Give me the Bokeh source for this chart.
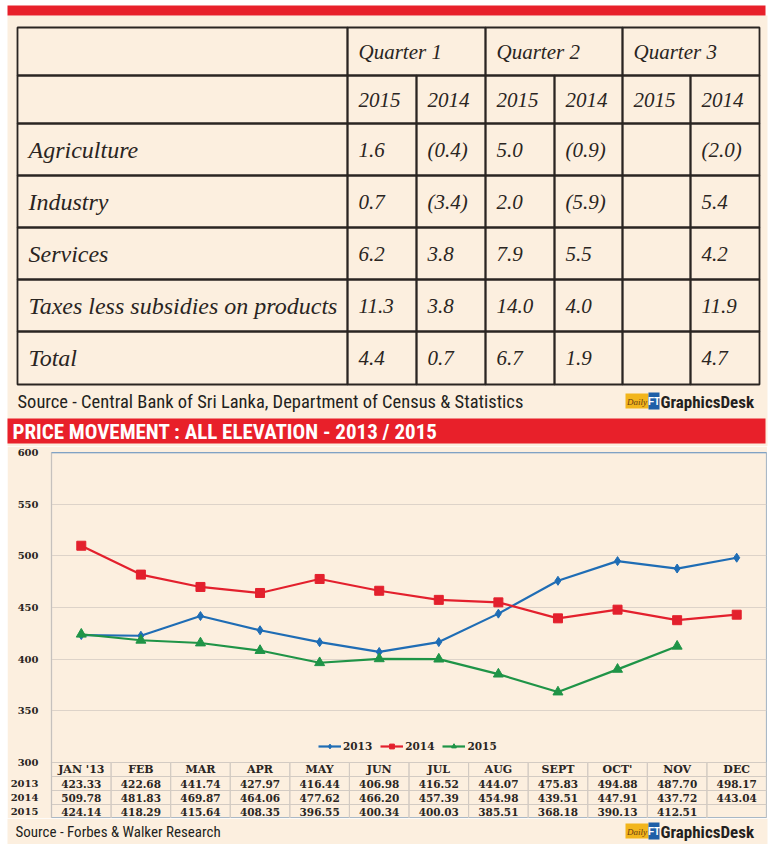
from bokeh.plotting import figure
from bokeh.layouts import column, row
from bokeh.models import (Range1d, FactorRange, FixedTicker, Legend, LegendItem,
                          ColumnDataSource, Span, Spacer)
from bokeh.core.properties import value
from bokeh.embed import file_html
from bokeh.resources import INLINE

# ---------------- data: GDP growth table ----------------
sectors = ["Agriculture", "Industry", "Services",
           "Taxes less subsidies on products", "Total"]
quarters = ["Quarter 1", "Quarter 2", "Quarter 3"]
table_years = ["2015", "2014"]
q1_2015 = [1.6, 0.7, 6.2, 11.3, 4.4]
q1_2014 = [-0.4, -3.4, 3.8, 3.8, 0.7]
q2_2015 = [5.0, 2.0, 7.9, 14.0, 6.7]
q2_2014 = [-0.9, -5.9, 5.5, 4.0, 1.9]
q3_2015 = [None, None, None, None, None]
q3_2014 = [-2.0, 5.4, 4.2, 11.9, 4.7]

# ---------------- data: tea price movement ----------------
months = ["JAN '13", "FEB", "MAR", "APR", "MAY", "JUN", "JUL", "AUG",
          "SEPT", "OCT'", "NOV", "DEC"]
series_years = ["2013", "2014", "2015"]
price_2013 = [423.33, 422.68, 441.74, 427.97, 416.44, 406.98, 416.52, 444.07,
              475.83, 494.88, 487.70, 498.17]
price_2014 = [509.78, 481.83, 469.87, 464.06, 477.62, 466.20, 457.39, 454.98,
              439.51, 447.91, 437.72, 443.04]
price_2015 = [424.14, 418.29, 415.64, 408.35, 396.55, 400.34, 400.03, 385.51,
              368.18, 390.13, 412.51]
y_ticks = [300, 350, 400, 450, 500, 550, 600]

# ---------------- styles ----------------
CREAM = "#fcefdf"
RED = "#e8202a"
INK = "#2a2522"
SERIF = value("Liberation Serif")
F_COND = value("Roboto Condensed")
CHART_FONT = "DejaVu Serif"
COLORS = ["#1f6db5", "#e3202d", "#1f9447"]
MARKERS = ["diamond", "square", "triangle"]
MSIZE = [9, 9, 10]

PAGE_W = 770
HA, HB, HC = 446, 372, 26


def fmt(v):
    if v is None:
        return ""
    return f"({abs(v):.1f})" if v < 0 else f"{v:.1f}"


def mid(a, b):
    return (a + b) / 2


def logo(p, yc):
    p.quad(left=[625], right=[648], top=[yc - 8], bottom=[yc + 7], color="#f2b51c", line_width=0)
    p.quad(left=[648], right=[659], top=[yc - 9], bottom=[yc + 8], color="#1e5fa8", line_width=0)
    p.text(x=[636.5], y=[yc], text=["Daily"], text_font=SERIF, text_font_style="italic",
           text_font_size="9px", text_color="#6b3d12", text_baseline="middle", text_align="center")
    p.text(x=[653.5], y=[yc], text=["FT"], text_font=value("Liberation Sans"), text_font_style="bold",
           text_font_size="10px", text_color="white", text_baseline="middle", text_align="center")
    p.text(x=[660], y=[yc], text=["GraphicsDesk"], text_font=F_COND, text_font_style="bold",
           text_font_size="17px", text_color="#231f20", text_baseline="middle")


# ================= Figure A: GDP table =================
pA = figure(width=PAGE_W, height=HA, x_range=Range1d(0, PAGE_W), y_range=Range1d(HA, 0),
            output_backend="svg", toolbar_location=None, min_border=0,
            x_axis_location=None, y_axis_location=None,
            background_fill_color="white", border_fill_color="white")
pA.grid.visible = False
pA.outline_line_color = None
pA.frame_align = False

pA.quad(left=[7], right=[767], top=[15], bottom=[HA], color=CREAM, line_width=0)
pA.quad(left=[7], right=[765], top=[5], bottom=[15], color=RED, line_width=0)

col_edges = [17, 347, 416, 485, 554, 622, 690, 759]
row_edges = [27, 75, 123, 175, 227, 279, 331, 384]

L, R, T, B = [], [], [], []
hdr_cols = [(col_edges[0], col_edges[1])] + [(col_edges[1 + 2 * q], col_edges[3 + 2 * q]) for q in range(3)]
for l, r in hdr_cols:
    L.append(l); R.append(r); T.append(row_edges[0]); B.append(row_edges[1])
for ri in range(1, len(row_edges) - 1):
    for ci in range(len(col_edges) - 1):
        L.append(col_edges[ci]); R.append(col_edges[ci + 1])
        T.append(row_edges[ri]); B.append(row_edges[ri + 1])
pA.quad(left=L, right=R, top=T, bottom=B, fill_alpha=0, line_color=INK, line_width=1.8)

pA.text(x=[col_edges[1 + 2 * q] + 11 for q in range(3)], y=[mid(row_edges[0], row_edges[1])] * 3,
        text=quarters, text_font=SERIF, text_font_style="italic", text_font_size="21px",
        text_color=INK, text_baseline="middle")
pA.text(x=[col_edges[1 + k] + 11 for k in range(6)], y=[mid(row_edges[1], row_edges[2])] * 6,
        text=table_years * 3, text_font=SERIF, text_font_style="italic", text_font_size="21px",
        text_color=INK, text_baseline="middle")
pA.text(x=[28] * len(sectors), y=[mid(row_edges[2 + i], row_edges[3 + i]) for i in range(len(sectors))],
        text=sectors, text_font=SERIF, text_font_style="italic", text_font_size="24px",
        text_color=INK, text_baseline="middle")
cols = [q1_2015, q1_2014, q2_2015, q2_2014, q3_2015, q3_2014]
vx, vy, vt = [], [], []
for ci, col in enumerate(cols):
    for ri, v in enumerate(col):
        vx.append(col_edges[1 + ci] + 11)
        vy.append(mid(row_edges[2 + ri], row_edges[3 + ri]))
        vt.append(fmt(v))
pA.text(x=vx, y=vy, text=vt, text_font=SERIF, text_font_style="italic", text_font_size="21px",
        text_color=INK, text_baseline="middle")

pA.text(x=[17], y=[401], text=["Source - Central Bank of Sri Lanka, Department of Census & Statistics"],
        text_font=F_COND, text_font_size="18.5px", text_color="#231f20", text_baseline="middle")
logo(pA, 401)

pA.quad(left=[7], right=[765], top=[418], bottom=[443], color=RED, line_width=0)
pA.text(x=[12], y=[431], text=["PRICE MOVEMENT : ALL ELEVATION - 2013 / 2015"],
        text_font=F_COND, text_font_style="bold", text_font_size="21px",
        text_color="white", text_baseline="middle")

# ================= Figure B: price chart + data table =================
WB = 760
top_pad = 6
frame_h = HB - top_pad
row_h = 14
table_rows = ["hdr"] + series_years          # top to bottom
table_h = row_h * len(table_rows)
price_lo = y_ticks[0] - (y_ticks[-1] - y_ticks[0]) * table_h / (frame_h - table_h)
ppp = (y_ticks[-1] - price_lo) / frame_h

pB = figure(width=WB, height=HB, x_range=FactorRange(*months),
            y_range=Range1d(price_lo, y_ticks[-1]),
            output_backend="svg", toolbar_location=None,
            min_border_left=40, min_border_right=1, min_border_top=top_pad,
            min_border_bottom=0, x_axis_location=None,
            background_fill_color=CREAM, border_fill_color=CREAM)
pB.frame_align = False
pB.extra_y_ranges = {"tbl": Range1d(0, frame_h / row_h)}

n_rows = len(table_rows)
row_y = {name: n_rows - 0.5 - i for i, name in enumerate(table_rows)}
row_tick = {yr: round(price_lo + row_y[yr] * row_h * ppp, 3) for yr in series_years}

pB.yaxis.ticker = FixedTicker(ticks=y_ticks + list(row_tick.values()))
overrides = {t: str(t) for t in y_ticks}
overrides.update({v: yr for yr, v in row_tick.items()})
pB.yaxis.major_label_overrides = overrides
pB.yaxis.major_label_text_font = CHART_FONT
pB.yaxis.major_label_text_font_style = "bold"
pB.yaxis.major_label_text_font_size = "10px"
pB.yaxis.major_label_text_color = INK
pB.yaxis.axis_line_color = "#c6c1bd"
pB.yaxis.major_tick_line_color = None
pB.yaxis.minor_tick_line_color = None
pB.yaxis.major_label_standoff = 7
pB.xgrid.visible = False
pB.ygrid.ticker = FixedTicker(ticks=y_ticks[1:-1])
pB.ygrid.grid_line_color = "#ddd3c9"
pB.ygrid.grid_line_width = 1.2
pB.outline_line_color = "#a9b8c6"
pB.outline_line_width = 1.2
pB.add_layout(Span(location=y_ticks[-1], dimension="width", line_color="#5a8cc2", line_width=1.5))

items = []
for yr, vals, c, m, s in zip(series_years, [price_2013, price_2014, price_2015], COLORS, MARKERS, MSIZE):
    src = ColumnDataSource(dict(x=months[:len(vals)], y=vals))
    r1 = pB.line("x", "y", source=src, line_color=c, line_width=2.2)
    r2 = pB.scatter("x", "y", source=src, marker=m, size=s, fill_color=c, line_color=c)
    items.append(LegendItem(label=yr, renderers=[r1, r2]))

legend = Legend(items=items, orientation="horizontal", location=(267, 66),
                background_fill_alpha=0, border_line_color=None, padding=0, margin=0,
                spacing=8, label_standoff=2, glyph_width=23, glyph_height=12, label_height=12,
                label_text_font=CHART_FONT, label_text_font_size="10.5px",
                label_text_font_style="bold", label_text_color=INK)
pB.add_layout(legend)

cx, cy = [], []
for name in table_rows:
    for mth in months:
        cx.append(mth); cy.append(row_y[name])
pB.rect(x=cx, y=cy, width=1, height=1, y_range_name="tbl", fill_alpha=0,
        line_color="#d3cbc3", line_width=1)
pB.text(x=months, y=[row_y["hdr"]] * len(months), text=months, y_range_name="tbl",
        text_font=value(CHART_FONT), text_font_style="bold", text_font_size="11px",
        text_color=INK, text_align="center", text_baseline="middle")
for yr, vals in zip(series_years, [price_2013, price_2014, price_2015]):
    pB.text(x=months[:len(vals)], y=[row_y[yr]] * len(vals), text=[f"{v:.2f}" for v in vals],
            y_range_name="tbl", text_font=value(CHART_FONT), text_font_style="bold",
            text_font_size="10.5px", text_color=INK, text_align="center", text_baseline="middle")

# ================= Figure C: source line =================
pC = figure(width=PAGE_W, height=HC, x_range=Range1d(0, PAGE_W), y_range=Range1d(HA + HB + HC, HA + HB),
            output_backend="svg", toolbar_location=None, min_border=0,
            x_axis_location=None, y_axis_location=None,
            background_fill_color="white", border_fill_color="white")
pC.grid.visible = False
pC.outline_line_color = None
pC.frame_align = False
pC.quad(left=[7], right=[767], top=[HA + HB], bottom=[HA + HB + HC], color=CREAM, line_width=0)
pC.text(x=[15], y=[831], text=["Source - Forbes & Walker Research"], text_font=F_COND,
        text_font_size="15px", text_color="#231f20", text_baseline="middle")
logo(pC, 831)

layout = column(pA, row(Spacer(width=7), pB, spacing=0), pC, spacing=0)
open("out.html", "w").write(file_html(layout, INLINE))
